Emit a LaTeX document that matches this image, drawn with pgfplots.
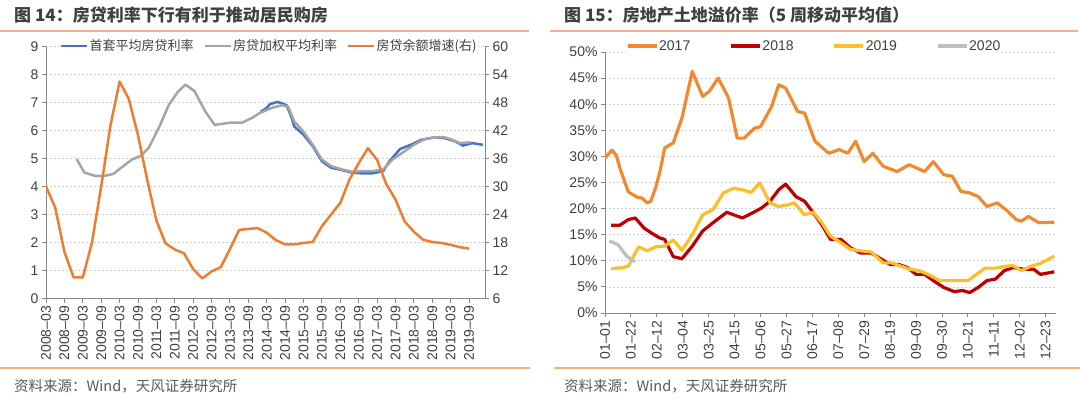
\documentclass[border=0pt]{standalone}
\usepackage{fontspec}
\setmainfont{Liberation Sans}
\newfontfamily\cjk{Noto Sans CJK SC}
\usepackage{pgfplots}
\pgfplotsset{compat=1.18}
\definecolor{cblue}{HTML}{4472C4}
\definecolor{cgray}{HTML}{A5A5A5}
\definecolor{corange}{HTML}{ED7D31}
\definecolor{c17}{HTML}{F08A30}
\definecolor{c18}{HTML}{C00000}
\definecolor{c19}{HTML}{FBBF2C}
\definecolor{c20}{HTML}{BFBFBF}
\definecolor{rulec}{HTML}{F4B183}
\definecolor{txt}{HTML}{404040}
\definecolor{srctxt}{HTML}{595959}
\definecolor{axisgray}{HTML}{868686}
\definecolor{gridgray}{HTML}{CFCFCF}
\pgfplotsset{
  base/.style={
    scale only axis,
    anchor=south west,
    /pgf/number format/assume math mode=true,
    tick label style={font=\fontsize{14bp}{16bp}\selectfont, text=txt},
    axis line style={draw=axisgray, line width=0.9bp},
    tick style={draw=axisgray, line width=0.9bp},
    major tick length=4bp,
    tick align=outside,
    grid style={gridgray, dash pattern=on 2bp off 2bp, line width=0.6bp},
    legend image code/.code={\draw[##1] (0bp,0bp) -- (26bp,0bp);},
  },
}
\begin{document}
\begin{tikzpicture}
\path[use as bounding box] (0bp,0bp) rectangle (1080bp,399bp);
% rules and titles
\draw[rulec, line width=2bp] (0bp,367.5bp) -- (529bp,367.5bp);
\draw[rulec, line width=2bp] (550bp,367.5bp) -- (1078bp,367.5bp);
\draw[rulec, line width=2bp] (0bp,31bp) -- (530bp,31bp);
\draw[rulec, line width=2bp] (554bp,31bp) -- (1080bp,31bp);
\node[anchor=west, inner sep=0, text=txt, font=\cjk\fontsize{17bp}{20bp}\selectfont\bfseries] at (14bp,383.5bp) {图 14：房贷利率下行有利于推动居民购房};
\node[anchor=west, inner sep=0, text=txt, font=\cjk\fontsize{17bp}{20bp}\selectfont\bfseries] at (564bp,383.5bp) {图 15：房地产土地溢价率（5 周移动平均值）};
\node[anchor=west, inner sep=0, text=srctxt, font=\cjk\fontsize{14.5bp}{17bp}\selectfont] at (14bp,13bp) {资料来源：Wind，天风证券研究所};
\node[anchor=west, inner sep=0, text=srctxt, font=\cjk\fontsize{14.5bp}{17bp}\selectfont] at (564bp,13bp) {资料来源：Wind，天风证券研究所};

% ---------- left chart ----------
\begin{axis}[base, at={(46bp,100.5bp)}, width=439bp, height=252bp,
  xmin=0, xmax=143.2, ymin=0, ymax=9, ytick={0,1,...,9},
  axis x line*=bottom, axis y line*=left,
  xtick={0,6,...,138},
  xticklabels={2008–03,2008–09,2009–03,2009–09,2010–03,2010–09,2011–03,2011–09,2012–03,2012–09,2013–03,2013–09,2014–03,2014–09,2015–03,2015–09,2016–03,2016–09,2017–03,2017–09,2018–03,2018–09,2019–03,2019–09},
  xticklabel style={rotate=90, anchor=east},
  ymajorgrids,
  legend columns=3,
  legend style={at={(0.032,1.002)}, anchor=west, draw=none, fill=white, inner xsep=0bp, inner ysep=1bp,
    font=\cjk\fontsize{13bp}{15bp}\selectfont, text=txt,
    nodes={inner xsep=1bp, inner ysep=1bp},
    /tikz/every even column/.append style={column sep=9bp}},
]
\addplot[cblue, line width=2.5bp, line join=round] coordinates {
(70,6.67) (72,6.8) (73,6.94) (75.5,7.02) (77,6.97) (78.5,6.9) (80,6.5) (81,6.14) (84,5.85) (87,5.44) (90,4.9) (93,4.67) (96.5,4.59) (100,4.49) (103,4.47) (106.5,4.47) (110,4.55) (112,4.9) (115.5,5.34) (119,5.49) (122.5,5.67) (127,5.76) (130,5.73) (133.5,5.61) (136,5.46) (139,5.55) (142.5,5.49)};
\addlegendentry{首套平均房贷利率}
\addplot[cgray, line width=2.5bp, line join=round] coordinates {
(10,4.98) (12.5,4.5) (16,4.38) (19,4.38) (22,4.45) (24.5,4.67) (28,4.96) (31,5.1) (33.5,5.38) (37,6.14) (40,6.9) (43,7.38) (45.5,7.64) (48.5,7.4) (52,6.67) (55,6.2) (57,6.23) (60,6.28) (64,6.28) (67,6.44) (70,6.64) (74,6.82) (77,6.9) (79,6.85) (81,6.32) (84,5.96) (87,5.49) (90,4.96) (93,4.73) (96.5,4.61) (100,4.52) (103,4.55) (106.5,4.55) (110,4.61) (113,4.96) (117,5.26) (120,5.49) (123.5,5.69) (127,5.76) (130,5.76) (132.5,5.67) (135,5.55) (138.5,5.58)};
\addlegendentry{房贷加权平均利率}
\addlegendimage{corange, line width=2.5bp}
\addlegendentry{房贷余额增速(右)}
\end{axis}
\begin{axis}[base, at={(46bp,100.5bp)}, width=439bp, height=252bp,
  xmin=0, xmax=143.2, ymin=6, ymax=60, ytick={6,12,...,60},
  axis y line*=right, axis x line=none,
]
\addplot[corange, line width=2.5bp, line join=round] coordinates {
(0,30) (3,25.5) (6,16) (9,10.5) (12,10.5) (15,18) (18,30) (21,43) (24,52.5) (27,48.8) (30,41) (33,31.5) (36,22.7) (39,17.8) (42,16.5) (45,15.7) (48,12.3) (51,10.3) (54,11.8) (57,12.7) (60,16.6) (63,20.7) (66,20.9) (69,21.1) (72,20.1) (75,18.5) (78,17.6) (81,17.6) (84,17.9) (87,18.1) (90,21.5) (93,24) (96,26.5) (99,31.5) (102,35) (105,38.2) (108,35.7) (111,30.5) (114,27.2) (117,22.5) (120,20.3) (123,18.6) (126,18.1) (129,17.9) (132,17.5) (135,17.0) (138,16.7)};
\end{axis}

% ---------- right chart ----------
\begin{axis}[base, at={(605bp,86bp)}, width=451bp, height=261bp,
  xmin=0, xmax=52.2, ymin=0, ymax=50,
  ytick={0,5,...,50}, yticklabels={0\%,5\%,10\%,15\%,20\%,25\%,30\%,35\%,40\%,45\%,50\%},
  axis x line*=bottom, axis y line*=left,
  xtick={0,3,...,51},
  xticklabels={01–01,01–22,02–12,03–04,03–25,04–15,05–06,05–27,06–17,07–08,07–29,08–19,09–09,09–30,10–21,11–11,12–02,12–23},
  xticklabel style={rotate=90, anchor=east},
  ymajorgrids,
  legend columns=4,
  legend style={at={(0.046,1.023)}, anchor=west, draw=none, fill=white, inner xsep=0bp, inner ysep=1bp,
    font=\fontsize{14bp}{16bp}\selectfont, text=txt,
    nodes={inner xsep=1bp, inner ysep=1bp},
    /tikz/every even column/.append style={column sep=38bp}},
  legend image code/.code={\draw[#1] (0bp,0bp) -- (29bp,0bp);},
]
\addplot[c17, line width=3.2bp, line join=round] coordinates {
(0,29.7) (0.8,31.2) (1.3,30.2) (1.8,27.4) (2.7,23.2) (3.7,22.2) (4.3,22.0) (4.9,21.1) (5.3,21.4) (5.9,24.2) (6.4,27.4) (6.9,31.6) (7.9,32.6) (8.9,37.3) (10.1,46.3) (11.3,41.5) (12.1,42.5) (13.1,45) (14.3,41.2) (15.3,33.5) (16.1,33.5) (17.3,35.4) (18,35.7) (19.3,39.6) (20.1,43.7) (20.9,43.1) (22.3,38.6) (23.1,38.3) (24.3,32.9) (25.9,30.6) (27.1,31.3) (28.1,30.6) (29,32.9) (30,29) (31,30.6) (32.2,28.1) (33.8,27.1) (35.2,28.4) (37,27.1) (38,29) (39.2,26.5) (40.2,26.2) (41.2,23.3) (42.2,23.0) (43.2,22.3) (44.2,20.4) (45.4,21.1) (46.4,19.8) (47.6,17.9) (48.2,17.6) (49,18.5) (50.2,17.3) (52,17.4)};
\addlegendentry{2017}
\addplot[c18, line width=3.2bp, line join=round] coordinates {
(0.7,16.8) (1.7,16.8) (2.7,17.9) (3.5,18.2) (4.5,16.3) (5.3,15.4) (6.3,14.4) (6.9,14.1) (7.9,10.8) (8.9,10.4) (10.1,12.8) (11.3,15.7) (12.5,17.3) (14.1,19.3) (14.9,18.8) (15.9,18.2) (17.1,19.2) (18.1,20.1) (19.1,21.4) (20.1,23.6) (20.9,24.7) (22.1,22.3) (23.1,21.4) (24.1,19.2) (25.1,16.9) (26.1,14.1) (27.3,14.1) (28.4,12.5) (29.6,11.5) (30.8,11.5) (32,10.3) (33,9.3) (34,9.3) (35,8.7) (36,7.4) (37,7.4) (38,6.2) (39.2,4.9) (40.4,4.1) (41.4,4.3) (42.2,3.9) (43.2,4.9) (44.2,6.2) (45.2,6.5) (46.2,8.1) (47.2,8.7) (48.4,8.4) (49.6,8.4) (50.4,7.4) (52,7.9)};
\addlegendentry{2018}
\addplot[c19, line width=3.2bp, line join=round] coordinates {
(0.7,8.5) (2.1,8.7) (2.7,9.0) (3.9,12.7) (4.9,11.9) (5.9,12.7) (6.9,12.8) (7.9,14.0) (8.9,12.0) (10.1,15.0) (11.3,18.8) (12.5,19.8) (13.7,23.0) (14.9,23.9) (15.9,23.6) (16.9,23.1) (17.9,24.9) (19.1,21.1) (20.1,20.4) (21.1,20.7) (21.9,21.1) (23.1,18.8) (24.1,19.3) (25.1,17.3) (26.1,14.7) (27.3,13.5) (28.4,12.2) (29.6,11.9) (30.8,11.7) (32.2,9.6) (33.2,9.6) (34.2,9.0) (35.2,8.4) (36.4,8.1) (37.4,7.4) (38.8,6.2) (40,6.2) (41.2,6.2) (42,6.2) (43,7.4) (44,8.6) (45.2,8.6) (46.2,8.9) (47.2,9.1) (48.2,8.1) (49.2,8.9) (50.4,9.5) (52,10.9)};
\addlegendentry{2019}
\addplot[c20, line width=3.2bp, line join=round] coordinates {
(0.5,13.8) (1.5,13.1) (2.5,10.9) (3.5,9.8)};
\addlegendentry{2020}
\end{axis}
\end{tikzpicture}
\end{document}
